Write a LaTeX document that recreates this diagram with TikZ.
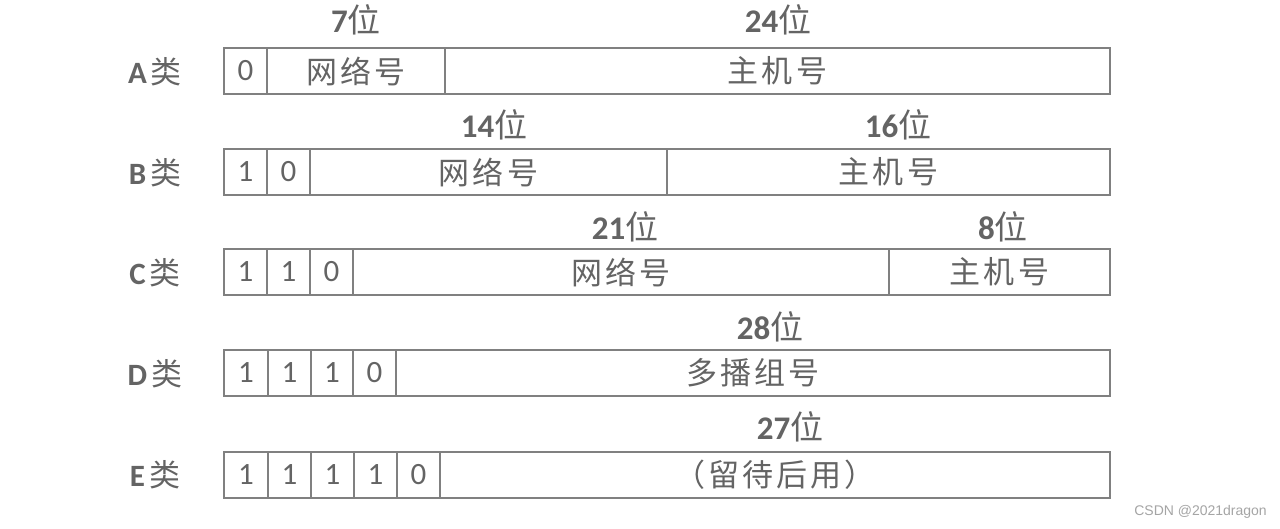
\documentclass[tikz,border=0pt]{standalone}
\usepackage{fontspec}
\setmainfont{Carlito}
\newfontfamily\cjk[LetterSpace=10]{Noto Sans CJK SC}
\newfontfamily\wmfont{Liberation Sans}
\definecolor{linegray}{RGB}{128,128,128}
\definecolor{textgray}{RGB}{100,100,100}
\definecolor{wmgray}{RGB}{165,165,165}
\tikzset{
  cellbox/.style={draw=linegray,line width=2.5pt,inner sep=0pt,minimum height=46pt,text=textgray,font=\fontsize{31}{36}\selectfont},
  bitlabel/.style={text=textgray,font=\fontsize{33}{38}\selectfont,inner sep=0pt},
  rowlabel/.style={text=textgray,font=\fontsize{31}{34}\selectfont,inner sep=0pt},
}
% \cellat{name}{x1}{x2}{ytop}{text}
\newcommand{\cellat}[5]{%
  \pgfmathsetmacro{\cx}{(#2+#3)/2}%
  \pgfmathsetmacro{\cw}{#3-#2}%
  \node[cellbox,minimum width=\cw pt] (#1) at (\cx pt,-#4pt-23pt) {#5};%
}
\begin{document}
\begin{tikzpicture}[x=1pt,y=-1pt]
\useasboundingbox[fill=white] (0,0) rectangle (1280,528);
% A
\node[rowlabel] (la) at (155,72) {\textbf{A}\kern4pt{\cjk 类}};
\cellat{a0}{224}{267}{48}{0}
\cellat{an}{267}{445}{48}{\cjk 网络号}
\cellat{ah}{445}{1110}{48}{\cjk 主机号}
\node[bitlabel] (ban) at (356,20) {\textbf{7}{\cjk 位}};
\node[bitlabel] (bah) at (778,20) {\textbf{24}{\cjk 位}};
% B
\node[rowlabel] (lb) at (155,173) {\textbf{B}\kern4pt{\cjk 类}};
\cellat{b0}{224}{267}{149}{1}
\cellat{b1}{267}{310}{149}{0}
\cellat{bn}{310}{667}{149}{\cjk 网络号}
\cellat{bh}{667}{1110}{149}{\cjk 主机号}
\node[bitlabel] (bbn) at (494,125) {\textbf{14}{\cjk 位}};
\node[bitlabel] (bbh) at (898,125) {\textbf{16}{\cjk 位}};
% C
\node[rowlabel] (lc) at (155,273) {\textbf{C}\kern4pt{\cjk 类}};
\cellat{c0}{224}{267}{249}{1}
\cellat{c1}{267}{310}{249}{1}
\cellat{c2}{310}{353}{249}{0}
\cellat{cn}{353}{889}{249}{\cjk 网络号}
\cellat{ch}{889}{1110}{249}{\cjk 主机号}
\node[bitlabel] (bcn) at (625,227) {\textbf{21}{\cjk 位}};
\node[bitlabel] (bch) at (1003,227) {\textbf{8}{\cjk 位}};
% D
\node[rowlabel] (ld) at (155,374) {\textbf{D}\kern4pt{\cjk 类}};
\cellat{d0}{224}{268}{350}{1}
\cellat{d1}{268}{311}{350}{1}
\cellat{d2}{311}{353}{350}{1}
\cellat{d3}{353}{396}{350}{0}
\cellat{dm}{396}{1110}{350}{\cjk 多播组号}
\node[bitlabel] (bdm) at (770,327) {\textbf{28}{\cjk 位}};
% E
\node[rowlabel] (le) at (155,475) {\textbf{E}\kern4pt{\cjk 类}};
\cellat{e0}{224}{268}{452}{1}
\cellat{e1}{268}{311}{452}{1}
\cellat{e2}{311}{354}{452}{1}
\cellat{e3}{354}{397}{452}{1}
\cellat{e4}{397}{440}{452}{0}
\cellat{er}{440}{1110}{452}{\cjk （留待后用）}
\node[bitlabel] (ber) at (790,427) {\textbf{27}{\cjk 位}};
% watermark
\node[text=wmgray,font=\fontsize{14}{16}\selectfont\wmfont,anchor=east,inner sep=0pt] (wm) at (1267,512) {CSDN @2021dragon};
\end{tikzpicture}
\end{document}
